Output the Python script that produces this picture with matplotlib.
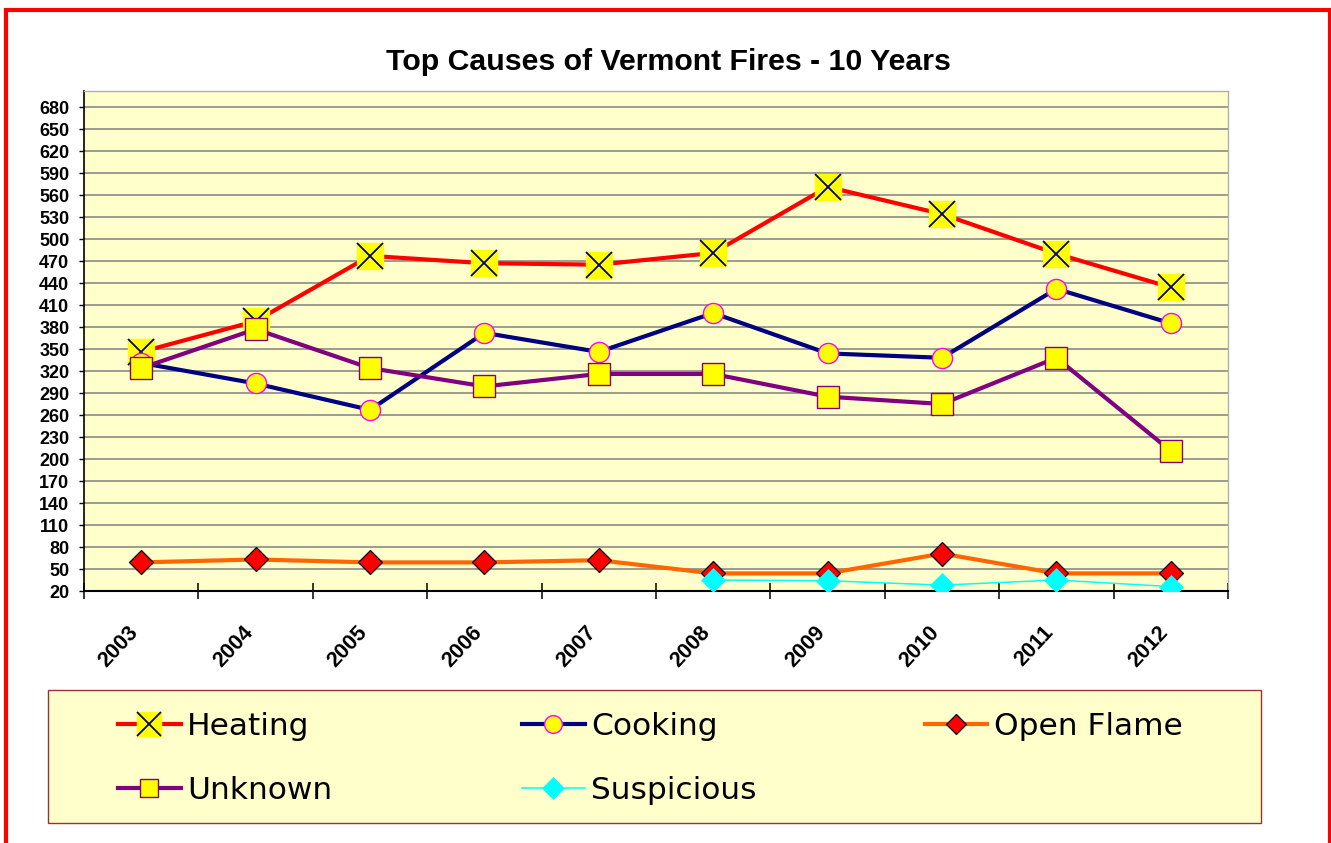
import numpy as np
import matplotlib
matplotlib.use("Agg")
import matplotlib.pyplot as plt
from matplotlib.patches import Rectangle
from matplotlib.legend_handler import HandlerTuple
from matplotlib.transforms import ScaledTranslation

# ---- data ----
years = ['2003', '2004', '2005', '2006', '2007', '2008', '2009', '2010', '2011', '2012']
heating = [346, 388, 477, 467, 465, 481, 571, 534, 480, 434]
cooking = [331, 303, 267, 372, 346, 399, 344, 338, 432, 385]
open_flame = [59, 63, 59, 59, 62, 44, 44, 71, 44, 44]
unknown = [324, 377, 324, 299, 316, 316, 285, 275, 338, 211]
suspicious = [np.nan, np.nan, np.nan, np.nan, np.nan, 35, 34, 28, 35, 26]
y_ticks = list(range(20, 681, 30))
title = 'Top Causes of Vermont Fires - 10 Years'

W, H = 1331, 843
fig = plt.figure(figsize=(W / 100, H / 100), dpi=100)
fig.patch.set_facecolor('white')

# red outer frame
fig.patches.append(Rectangle((5.5 / W, -0.05), (1330 - 5.5) / W, 1.05 - 10 / H,
                             transform=fig.transFigure, fill=False,
                             edgecolor='#FF0000', lw=3, zorder=0))

L, R, T, B = 84, 1228, 91, 591
ax = fig.add_axes([L / W, 1 - B / H, (R - L) / W, (B - T) / H])
ax.set_facecolor('#FFFFCC')

x = np.arange(len(years))

h_line, = ax.plot(x, heating, color='#FF0000', lw=3, marker='s', ms=19,
                  mfc='#FFFF00', mec='#FFFF00', zorder=3)
h_x, = ax.plot(x, heating, ls='none', marker='x', ms=19, mec='#000080',
               mew=1.3, zorder=3.1)
c_line, = ax.plot(x, cooking, color='#000080', lw=3, marker='o', ms=14.5,
                  mfc='#FFFF00', mec='#FF00FF', mew=1.0, zorder=3.2)
o_line, = ax.plot(x, open_flame, color='#FF6600', lw=3, marker='D', ms=11.8,
                  mfc='#FF0000', mec='#000000', mew=0.9, zorder=3.3)
u_line, = ax.plot(x, unknown, color='#800080', lw=3, marker='s', ms=15.3,
                  mfc='#FFFF00', mec='#800080', mew=1.0, zorder=3.4)
s_line, = ax.plot(x, suspicious, color='#00FFFF', lw=1.1, marker='D', ms=12.5,
                  mfc='#00FFFF', mec='#00FFFF', mew=0.5, zorder=3.5)

ax.set_xlim(-0.5, len(years) - 0.5)
ax.set_ylim(20, 20 + (B - T) * 30 / 22)

ax.set_yticks(y_ticks)
ax.set_yticklabels([str(v) for v in y_ticks], fontsize=13, fontweight='bold',
                   family='Liberation Sans')
ax.yaxis.grid(True, color='#808080', lw=1.1)
ax.set_axisbelow(True)
ax.tick_params(axis='y', direction='out', length=3.6, width=1, color='black', pad=7)

ax.set_xticks(np.arange(-0.5, len(years), 1))
ax.set_xticklabels([])
ax.tick_params(axis='x', which='major', direction='inout', length=11.5, width=1.1,
               color='black')
ax.set_xticks(x, minor=True)
ax.set_xticklabels(years, minor=True, rotation=47, ha='right', va='center',
                   rotation_mode='anchor', fontsize=15.5, fontweight='bold',
                   family='Liberation Sans')
ax.tick_params(axis='x', which='minor', length=0, pad=27.5)
shift = ScaledTranslation(-6 / 100, 0, fig.dpi_scale_trans)
for lab in ax.get_xticklabels(minor=True):
    lab.set_transform(lab.get_transform() + shift)

for side in ['top', 'right']:
    ax.spines[side].set_color('#B0B0B0')
    ax.spines[side].set_linewidth(1.0)
ax.spines['left'].set_color('black')
ax.spines['left'].set_linewidth(1.2)
ax.spines['bottom'].set_color('black')
ax.spines['bottom'].set_linewidth(1.5)

fig.text(668 / W, 1 - 62 / H, title, ha='center', va='center', fontsize=21.8,
         fontweight='bold', family='Liberation Sans')

# legend box
fig.patches.append(Rectangle((48 / W, 1 - 823 / H), (1261 - 48) / W, (823 - 690) / H,
                             transform=fig.transFigure, facecolor='#FFFFCC',
                             edgecolor='#993333', lw=1.0, zorder=1))

leg_kw = dict(loc='upper left', frameon=False, borderpad=0, borderaxespad=0,
              handlelength=2.0, handletextpad=0.22, labelspacing=1.12,
              numpoints=1, prop={'family': 'DejaVu Sans', 'size': 22.5},
              markerscale=0.88,
              handler_map={tuple: HandlerTuple(ndivide=1, pad=0)})
top_y = 1 - 712 / H
groups = [
    (118, [(h_line, h_x), u_line], ['Heating', 'Unknown']),
    (522, [c_line, s_line], ['Cooking', 'Suspicious']),
    (925, [o_line], ['Open Flame']),
]
for xpos, hs, labs in groups:
    lg = fig.legend(hs, labs, bbox_to_anchor=(xpos / W, top_y), **leg_kw)
    lg.set_zorder(5)

fig.savefig('out.png', dpi=100)
